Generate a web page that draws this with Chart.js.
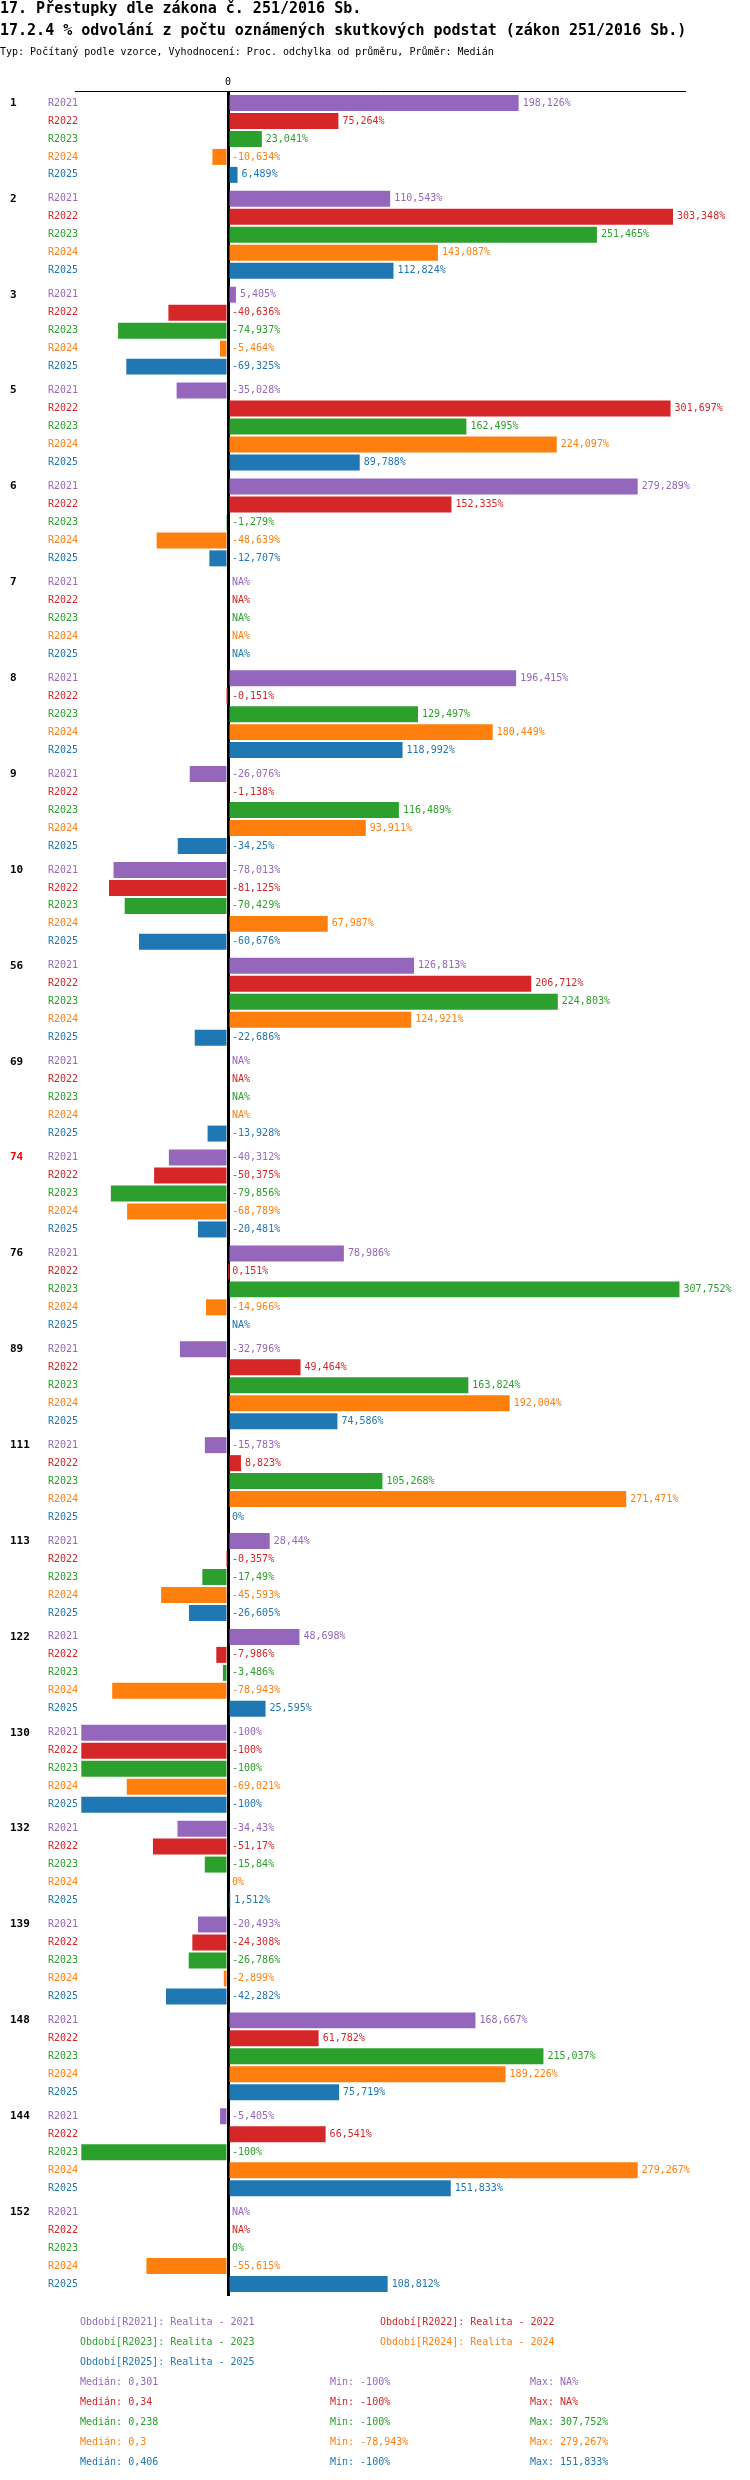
<!DOCTYPE html>
<html lang="cs">
<head>
<meta charset="utf-8">
<title>17.2.4 % odvolání</title>
<script src="https://cdn.jsdelivr.net/npm/chart.js@4.4.1/dist/chart.umd.min.js"></script>
<style>
  body { margin: 0; background: #fff; }
  canvas { display: block; }
</style>
</head>
<body>
<canvas id="graf" width="750" height="2480"></canvas>
<script>
/* Data */
const skupiny = ['1', '2', '3', '5', '6', '7', '8', '9', '10', '56', '69', '74', '76', '89', '111', '113', '122', '130', '132', '139', '148', '144', '152']
const zvyraznena = '74'

const obdobi = ['R2021', 'R2022', 'R2023', 'R2024', 'R2025']
const popisObdobi = ['Realita - 2021', 'Realita - 2022', 'Realita - 2023', 'Realita - 2024', 'Realita - 2025']
const barvy = ['#9467bd', '#d62728', '#2ca02c', '#ff7f0e', '#1f77b4']

// null = NA
const r2021 = [198.126, 110.543, 5.405, -35.028, 279.289, null, 196.415, -26.076, -78.013, 126.813, null, -40.312, 78.986, -32.796, -15.783, 28.44, 48.698, -100, -34.43, -20.493, 168.667, -5.405, null]
const r2022 = [75.264, 303.348, -40.636, 301.697, 152.335, null, -0.151, -1.138, -81.125, 206.712, null, -50.375, 0.151, 49.464, 8.823, -0.357, -7.986, -100, -51.17, -24.308, 61.782, 66.541, null]
const r2023 = [23.041, 251.465, -74.937, 162.495, -1.279, null, 129.497, 116.489, -70.429, 224.803, null, -79.856, 307.752, 163.824, 105.268, -17.49, -3.486, -100, -15.84, -26.786, 215.037, -100, 0]
const r2024 = [-10.634, 143.087, -5.464, 224.097, -48.639, null, 180.449, 93.911, 67.987, 124.921, null, -68.789, -14.966, 192.004, 271.471, -45.593, -78.943, -69.021, 0, -2.899, 189.226, 279.267, -55.615]
const r2025 = [6.489, 112.824, -69.325, 89.788, -12.707, null, 118.992, -34.25, -60.676, -22.686, -13.928, -20.481, null, 74.586, 0, -26.605, 25.595, -100, 1.512, -42.282, 75.719, 151.833, 108.812]
const rady = [r2021, r2022, r2023, r2024, r2025]

const medianyText = ['0,301', '0,34', '0,238', '0,3', '0,406']
const minimaText = ['-100%', '-100%', '-100%', '-78,943%', '-100%']
const maximaText = ['NA%', 'NA%', '307,752%', '279,267%', '151,833%']

const nadpis1 = '17. Přestupky dle zákona č. 251/2016 Sb.'
const nadpis2 = '17.2.4 % odvolání z počtu oznámených skutkových podstat (zákon 251/2016 Sb.)'
const nadpis3 = 'Typ: Počítaný podle vzorce, Vyhodnocení: Proc. odchylka od průměru, Průměr: Medián'

const pismo = '"DejaVu Sans Mono", "Liberation Mono", monospace'

/* formát čísla s desetinnou čárkou */
function formatuj(hodnota) {
    if (hodnota === null) return 'NA%'
    return String(hodnota).replace('.', ',') + '%'
}

/* Popisky řádků, skupin a hodnot + hlavička a legenda */
const popisky = {
    id: 'popisky',
    afterDatasetsDraw(chart) {
        const ctx = chart.ctx
        const nula = chart.scales.x.getPixelForValue(0)
        ctx.save()
        ctx.textBaseline = 'middle'
        ctx.textAlign = 'left'
        chart.data.datasets.forEach((ds, i) => {
            const meta = chart.getDatasetMeta(i)
            meta.data.forEach((bar, j) => {
                const hodnota = ds.data[j]
                const y = bar.y
                if (i === 0) {
                    ctx.font = 'bold 11px ' + pismo
                    ctx.fillStyle = skupiny[j] === zvyraznena ? '#ff0000' : '#000'
                    ctx.fillText(skupiny[j], 10, y)
                }
                ctx.font = '10px ' + pismo
                ctx.fillStyle = barvy[i]
                ctx.fillText(obdobi[i], 48, y)
                const x = (hodnota !== null && hodnota > 0) ? bar.x + 4 : nula + 4
                ctx.fillText(formatuj(hodnota), x, y)
            })
        })
        ctx.restore()
    },
    afterDraw(chart) {
        const ctx = chart.ctx
        ctx.save()
        ctx.textAlign = 'left'
        ctx.fillStyle = '#000'
        ctx.textBaseline = 'alphabetic'
        ctx.font = 'bold 15px ' + pismo
        ctx.fillText(nadpis1, 0, 13)
        ctx.fillText(nadpis2, 0, 35)
        ctx.font = '10px ' + pismo
        ctx.fillText(nadpis3, 0, 55)

        ctx.textBaseline = 'middle'
        const spodek = chart.chartArea.bottom
        obdobi.forEach((o, i) => {
            ctx.fillStyle = barvy[i]
            const sloupec = i % 2
            const radek = Math.floor(i / 2)
            ctx.fillText('Období[' + o + ']: ' + popisObdobi[i], sloupec === 0 ? 80 : 380, spodek + 26 + radek * 20)
        })
        obdobi.forEach((o, i) => {
            const y = spodek + 86 + i * 20
            ctx.fillStyle = barvy[i]
            ctx.fillText('Medián: ' + medianyText[i], 80, y)
            ctx.fillText('Min: ' + minimaText[i], 330, y)
            ctx.fillText('Max: ' + maximaText[i], 530, y)
        })
        ctx.restore()
    }
}

const graf = document.getElementById('graf')
const grafOdvolani = new Chart(graf, {
    type: 'bar',
    data: {
        labels: skupiny,
        datasets: obdobi.map((o, i) => ({
            label: o,
            data: rady[i],
            backgroundColor: barvy[i],
            borderWidth: 0,
            categoryPercentage: 90 / 96,
            barPercentage: 16 / 18
        }))
    },
    options: {
        indexAxis: 'y',
        responsive: false,
        animation: false,
        devicePixelRatio: 1,
        layout: {
            padding: { left: 75, right: 64, top: 73, bottom: 184 }
        },
        plugins: {
            legend: { display: false },
            tooltip: { enabled: false }
        },
        scales: {
            x: {
                position: 'top',
                min: -104.3,
                max: 312.2,
                z: 1,
                border: { display: true, color: '#000', width: 1 },
                grid: {
                    drawTicks: false,
                    color: (c) => (c.tick && c.tick.value === 0) ? '#000' : 'rgba(0,0,0,0)',
                    lineWidth: (c) => (c.tick && c.tick.value === 0) ? 3 : 0
                },
                ticks: {
                    stepSize: 50,
                    autoSkip: false,
                    maxRotation: 0,
                    color: '#000',
                    font: { family: pismo, size: 10 },
                    callback: (v) => v === 0 ? '0' : ''
                }
            },
            y: {
                display: false
            }
        }
    },
    plugins: [popisky]
})
</script>
</body>
</html>
